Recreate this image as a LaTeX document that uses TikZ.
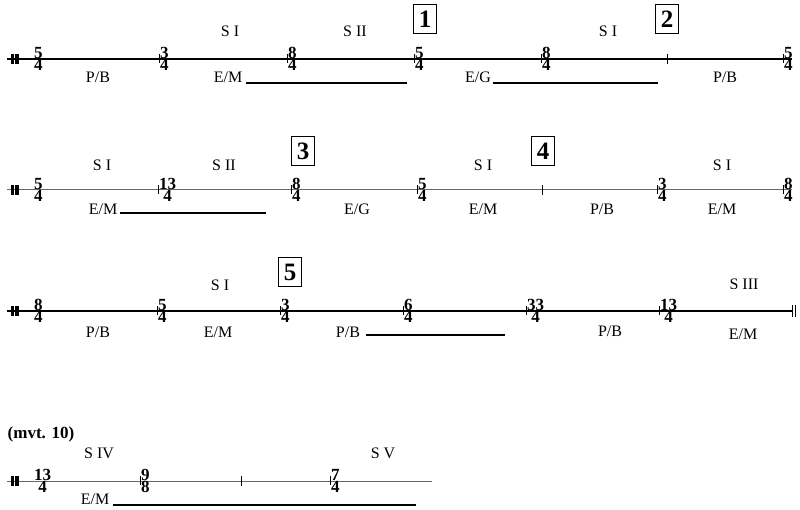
\documentclass[tikz,border=0pt]{standalone}
\usepackage{fontspec}
\setmainfont{Liberation Serif}
\usepackage{tikz}
\tikzstyle{staff} = [line width=1.3pt]
\tikzstyle{greystaff} = [line width=1pt, black!60]
\tikzstyle{tick} = [line width=0.9pt]
\tikzstyle{uline} = [line width=1.4pt]
\tikzstyle{sig} = [anchor=west, inner sep=0pt, align=center, font=\fontsize{17}{12.5}\selectfont\bfseries]
\tikzstyle{lbl} = [inner sep=0pt, font=\fontsize{16}{18}\selectfont]
\tikzstyle{rehearsal} = [draw, line width=0.7pt, inner sep=0pt, minimum width=23pt, minimum height=29pt, font=\fontsize{25}{27}\selectfont\bfseries]

\newcommand{\barSig}[5]{%
  \draw[tick] (#2,#3-5) -- (#2,#3+4);
  \node[sig] (#1) at (#2+1,#3) {#4\\#5};}
\newcommand{\plainTick}[3]{%
  \coordinate (#1) at (#2,#3);
  \draw[tick] (#1) ++(0,-5) -- ++(0,10);}
\newcommand{\openBar}[1]{%
  \fill (10.5,#1-5) rectangle ++(3.5,10);
  \fill (15,#1-5) rectangle ++(3.5,10);}

\begin{document}
\begin{tikzpicture}[x=1pt,y=-1pt]
\useasboundingbox (0,0) rectangle (800,510);
% row 1
\coordinate (r1s) at (7,59);
\coordinate (r1e) at (792,59);
\draw[staff] (r1s) -- (r1e);
\openBar{59}
\node[sig] (s11) at (34,59) {5\\4};
\barSig{s12}{159}{59}{3}{4}
\barSig{s13}{287}{59}{8}{4}
\barSig{s14}{414}{59}{5}{4}
\barSig{s15}{541}{59}{8}{4}
\plainTick{t11}{667}{59}
\barSig{s16}{783}{59}{5}{4}
\node[rehearsal] (box1) at (425,19) {1};
\node[rehearsal] (box2) at (667,19) {2};
\node[lbl] (up11) at (230,31) {S I};
\node[lbl] (up12) at (355,31) {S II};
\node[lbl] (up13) at (608,31) {S I};
\node[lbl] (lo11) at (98,77) {P/B};
\node[lbl] (lo12) at (228,77) {E/M};
\node[lbl] (lo13) at (478,77) {E/G};
\node[lbl] (lo14) at (725,77) {P/B};
\coordinate (u11a) at (246,83);
\coordinate (u11b) at (407,83);
\coordinate (u12a) at (493,83);
\coordinate (u12b) at (658,83);
\draw[uline] (u11a) -- (u11b);
\draw[uline] (u12a) -- (u12b);
% row 2
\coordinate (r2s) at (7,190);
\coordinate (r2e) at (792,190);
\draw[greystaff] (r2s) -- (r2e);
\openBar{190}
\node[sig] (s21) at (34,190) {5\\4};
\barSig{s22}{158}{190}{13}{4}
\barSig{s23}{291}{190}{8}{4}
\barSig{s24}{417}{190}{5}{4}
\plainTick{t21}{542}{190}
\barSig{s25}{657}{190}{3}{4}
\barSig{s26}{783}{190}{8}{4}
\node[rehearsal] (box3) at (303,151) {3};
\node[rehearsal] (box4) at (543,151) {4};
\node[lbl] (up21) at (102,165) {S I};
\node[lbl] (up22) at (224,165) {S II};
\node[lbl] (up23) at (483,165) {S I};
\node[lbl] (up24) at (722,165) {S I};
\node[lbl] (lo21) at (103,209) {E/M};
\node[lbl] (lo22) at (357,209) {E/G};
\node[lbl] (lo23) at (483,209) {E/M};
\node[lbl] (lo24) at (602,209) {P/B};
\node[lbl] (lo25) at (722,209) {E/M};
\coordinate (u21a) at (120,213);
\coordinate (u21b) at (266,213);
\draw[uline] (u21a) -- (u21b);
% row 3
\coordinate (r3s) at (7,311);
\coordinate (r3e) at (792,311);
\draw[staff] (r3s) -- (r3e);
\openBar{311}
\node[sig] (s31) at (34,311) {8\\4};
\barSig{s32}{157}{311}{5}{4}
\barSig{s33}{280}{311}{3}{4}
\barSig{s34}{403}{311}{6}{4}
\barSig{s35}{526}{311}{33}{4}
\barSig{s36}{659}{311}{13}{4}
\draw[tick] (792,305) -- (792,317);
\draw[tick] (795.5,305) -- (795.5,317);
\node[rehearsal] (box5) at (290,272) {5};
\node[lbl] (up31) at (220,285) {S I};
\node[lbl] (up32) at (744,284) {S III};
\node[lbl] (lo31) at (98,332) {P/B};
\node[lbl] (lo32) at (218,332) {E/M};
\node[lbl] (lo33) at (348,332) {P/B};
\node[lbl] (lo34) at (610,331) {P/B};
\node[lbl] (lo35) at (743,334) {E/M};
\coordinate (u31a) at (366,335);
\coordinate (u31b) at (505,335);
\draw[uline] (u31a) -- (u31b);
% row 4
\node[lbl, font=\fontsize{17}{19}\selectfont\bfseries] (mvt) at (41,434) {(mvt. 10)};
\coordinate (r4s) at (7,481);
\coordinate (r4e) at (432,481);
\draw[greystaff] (r4s) -- (r4e);
\openBar{481}
\node[sig] (s41) at (34,481) {13\\4};
\barSig{s42}{140}{481}{9}{8}
\plainTick{t41}{241}{481}
\barSig{s43}{330}{481}{7}{4}
\node[lbl] (up41) at (99,453) {S IV};
\node[lbl] (up42) at (383,453) {S V};
\node[lbl] (lo41) at (95,499) {E/M};
\coordinate (u41a) at (113,505);
\coordinate (u41b) at (416,505);
\draw[uline] (u41a) -- (u41b);
\end{tikzpicture}
\end{document}
